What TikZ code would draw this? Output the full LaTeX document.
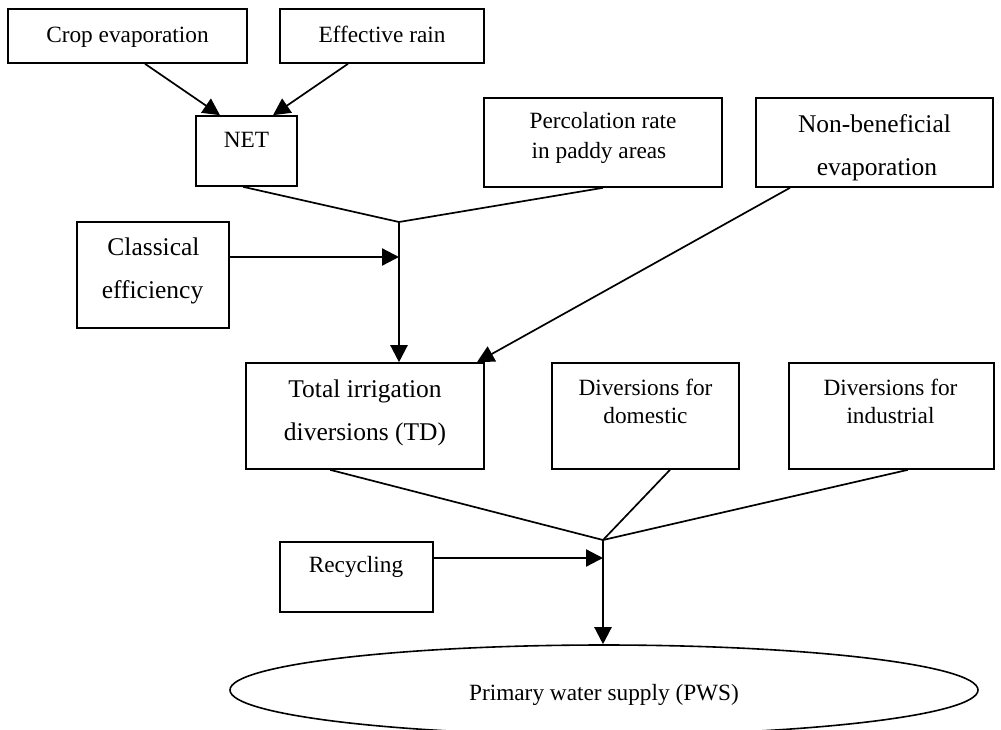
\documentclass[tikz,border=0pt]{standalone}
\usepackage{fontspec}
\setmainfont{Liberation Serif}
\usetikzlibrary{arrows.meta,shapes.geometric}
\begin{document}
\begin{tikzpicture}[x=1pt,y=-1pt,
  box/.style={draw,line width=1.6pt,rectangle,inner sep=0pt},
  small/.style={inner sep=0pt,anchor=base,font=\fontsize{23.3}{28}\selectfont},
  big/.style={inner sep=0pt,anchor=base,font=\fontsize{25.5}{30}\selectfont},
  conn/.style={line width=1.7pt},
  arr/.style={line width=2.3pt,-{Triangle[length=17pt,width=17pt]}},
  arrthin/.style={line width=1.7pt,-{Triangle[length=17pt,width=17pt]}}]
\useasboundingbox (0,0) rectangle (1001,729);
% boxes
\node[box,minimum width=239pt,minimum height=54pt] (crop) at (127.5,36) {};
\node[box,minimum width=204pt,minimum height=54pt] (rain) at (382,36) {};
\node[box,minimum width=101pt,minimum height=70pt] (net) at (246.5,151) {};
\node[box,minimum width=238pt,minimum height=89pt] (perc) at (603,142.5) {};
\node[box,minimum width=237pt,minimum height=89pt] (nonb) at (874.5,142.5) {};
\node[box,minimum width=152pt,minimum height=106pt] (clas) at (153,275) {};
\node[box,minimum width=238pt,minimum height=106pt] (td) at (365,416) {};
\node[box,minimum width=187pt,minimum height=106pt] (dom) at (645.5,416) {};
\node[box,minimum width=205pt,minimum height=106pt] (ind) at (891.5,416) {};
\node[box,minimum width=153pt,minimum height=70pt] (rec) at (356.5,577) {};
\node[draw,line width=1.6pt,ellipse,inner sep=0pt,minimum width=748pt,minimum height=90pt] (pws) at (604,690) {};
% texts
\node[small] (tcrop) at (127.5,42) {Crop evaporation};
\node[small] (train) at (382,42) {Effective rain};
\node[small] (tnet) at (246.5,147) {NET};
\node[small] (tperca) at (603,128) {Percolation rate};
\node[small] (tpercb) at (599,158) {in paddy areas};
\node[big] (tnonba) at (874.5,132) {Non-beneficial};
\node[big] (tnonbb) at (877,175) {evaporation};
\node[big] (tclasa) at (153.5,255) {Classical};
\node[big] (tclasb) at (152.5,298) {efficiency};
\node[big] (ttda) at (365,397) {Total irrigation};
\node[big] (ttdb) at (365,440) {diversions (TD)};
\node[small] (tdoma) at (645.5,395) {Diversions for};
\node[small] (tdomb) at (645.5,423) {domestic};
\node[small] (tinda) at (890.5,395) {Diversions for};
\node[small] (tindb) at (890.5,423) {industrial};
\node[small] (trec) at (356,572) {Recycling};
\node[small] (tpws) at (604,700) {Primary water supply (PWS)};
% junctions and connector ends
\coordinate (j1) at (399,222);
\coordinate (j2) at (603,540);
\coordinate (clasout) at ([yshift=18pt]clas.east);
\coordinate (recout) at ([yshift=19pt]rec.east);
% connectors
\draw[arrthin] ([xshift=17.5pt]crop.south) -- ([xshift=-26.5pt]net.north);
\draw[arrthin] ([xshift=-34pt]rain.south) -- ([xshift=26.5pt]net.north);
\draw[conn] ([xshift=-3.5pt]net.south) -- (j1);
\draw[conn] (perc.south) -- (j1);
\draw[arr] (clasout) -- (j1 |- clasout);
\draw[arr] (j1) -- (j1 |- td.north);
\draw[arrthin] ([xshift=-84.5pt]nonb.south) -- ([xshift=112pt]td.north);
\draw[conn] ([xshift=-35pt]td.south) -- (j2);
\draw[conn] ([xshift=24.5pt]dom.south) -- (j2);
\draw[conn] ([xshift=16.5pt]ind.south) -- (j2);
\draw[arr] (recout) -- (j2 |- recout);
\draw[arr] (j2) -- (j2 |- pws.north);
\end{tikzpicture}
\end{document}
